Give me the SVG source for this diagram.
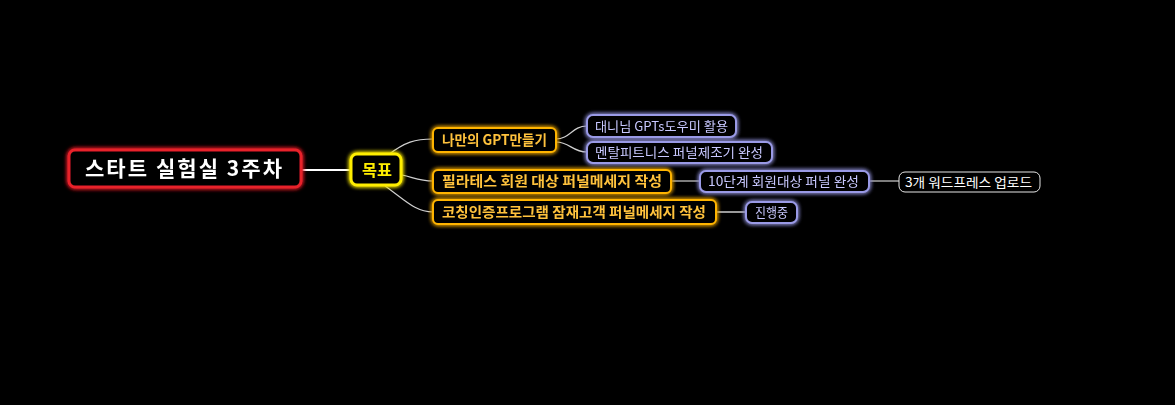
<svg xmlns="http://www.w3.org/2000/svg" width="1175" height="405" viewBox="0 0 1175 405">
<defs>
<filter id="glow" x="-20%" y="-50%" width="140%" height="200%">
<feGaussianBlur in="SourceGraphic" stdDeviation="2" result="b"/>
<feMerge><feMergeNode in="b"/><feMergeNode in="b"/><feMergeNode in="SourceGraphic"/></feMerge>
</filter>
<style>
text{font-family:"Malgun Gothic","Noto Sans CJK KR","Noto Sans",sans-serif;}
.root rect{fill:#000;stroke:#e8202a;stroke-width:3;}
.root text{fill:#fff;font-size:21px;font-weight:bold;}
.main rect{fill:#000;stroke:#ffee00;stroke-width:3;}
.main text{fill:#ffee00;font-size:16px;font-weight:bold;}
.sub rect{fill:#000;stroke:#ffb400;stroke-width:2;}
.sub text{fill:#ffc23c;font-size:14px;font-weight:bold;}
.leaf rect{fill:#000;stroke:#9a9ae6;stroke-width:2;}
.leaf text{fill:#c8c8ff;font-size:13px;}
.plain rect{fill:#000;stroke:#e6e6e6;stroke-width:1;}
.plain text{fill:#fff;font-size:13px;}
.conn path{fill:none;stroke:#d0d0d0;stroke-width:1.2;}
</style>
</defs>
<rect width="1175" height="405" fill="#000"/>
<g id="connectors" class="conn">
<path d="M302 170 H350" style="stroke:#fff;stroke-width:2"/>
<path d="M388 155 C405 142 415 139 433 139"/>
<path d="M402 175 C415 178 420 181 433 181"/>
<path d="M385 186 C405 200 415 212 433 212"/>
<path d="M556 139 C570 139 572 126 587 126"/>
<path d="M556 142 C570 142 572 152 587 152"/>
<path d="M672 181 H700"/>
<path d="M869 181 H899"/>
<path d="M716 212 H746" style="stroke:#fff"/>
</g>
<g id="root" class="root" filter="url(#glow)">
<rect x="69" y="150" width="232" height="37" rx="6"/>
<text x="85" y="176" textLength="197" lengthAdjust="spacing">스타트 실험실 3주차</text>
</g>
<g id="goal" class="main" filter="url(#glow)">
<rect x="351" y="154" width="50" height="31" rx="6"/>
<text x="362" y="176" textLength="30" lengthAdjust="spacingAndGlyphs">목표</text>
</g>
<g id="gpt" class="sub" filter="url(#glow)">
<rect x="433" y="128" width="123" height="24" rx="5"/>
<text x="442" y="145" textLength="105" lengthAdjust="spacingAndGlyphs">나만의 GPT만들기</text>
</g>
<g id="pilates" class="sub" filter="url(#glow)">
<rect x="433" y="170" width="238" height="23" rx="5"/>
<text x="442" y="186" textLength="220" lengthAdjust="spacingAndGlyphs">필라테스 회원 대상 퍼널메세지 작성</text>
</g>
<g id="coaching" class="sub" filter="url(#glow)">
<rect x="433" y="200" width="283" height="24" rx="5"/>
<text x="442" y="217" textLength="264" lengthAdjust="spacingAndGlyphs">코칭인증프로그램 잠재고객 퍼널메세지 작성</text>
</g>
<g id="danny" class="leaf" filter="url(#glow)">
<rect x="587" y="115" width="149" height="22" rx="6"/>
<text x="595" y="131" textLength="133" lengthAdjust="spacingAndGlyphs">대니님 GPTs도우미 활용</text>
</g>
<g id="mental" class="leaf" filter="url(#glow)">
<rect x="587" y="142" width="185" height="21" rx="6"/>
<text x="595" y="157" textLength="168" lengthAdjust="spacingAndGlyphs">멘탈피트니스 퍼널제조기 완성</text>
</g>
<g id="step10" class="leaf" filter="url(#glow)">
<rect x="700" y="171" width="169" height="21" rx="6"/>
<text x="708" y="186" textLength="151" lengthAdjust="spacingAndGlyphs">10단계 회원대상 퍼널 완성</text>
</g>
<g id="progress" class="leaf" filter="url(#glow)">
<rect x="746" y="202" width="51" height="21" rx="6"/>
<text x="755" y="217" textLength="33" lengthAdjust="spacingAndGlyphs">진행중</text>
</g>
<g id="wordpress" class="plain">
<rect x="899" y="172" width="141" height="20" rx="6"/>
<text x="905" y="187" textLength="127" lengthAdjust="spacingAndGlyphs">3개 워드프레스 업로드</text>
</g>
</svg>
